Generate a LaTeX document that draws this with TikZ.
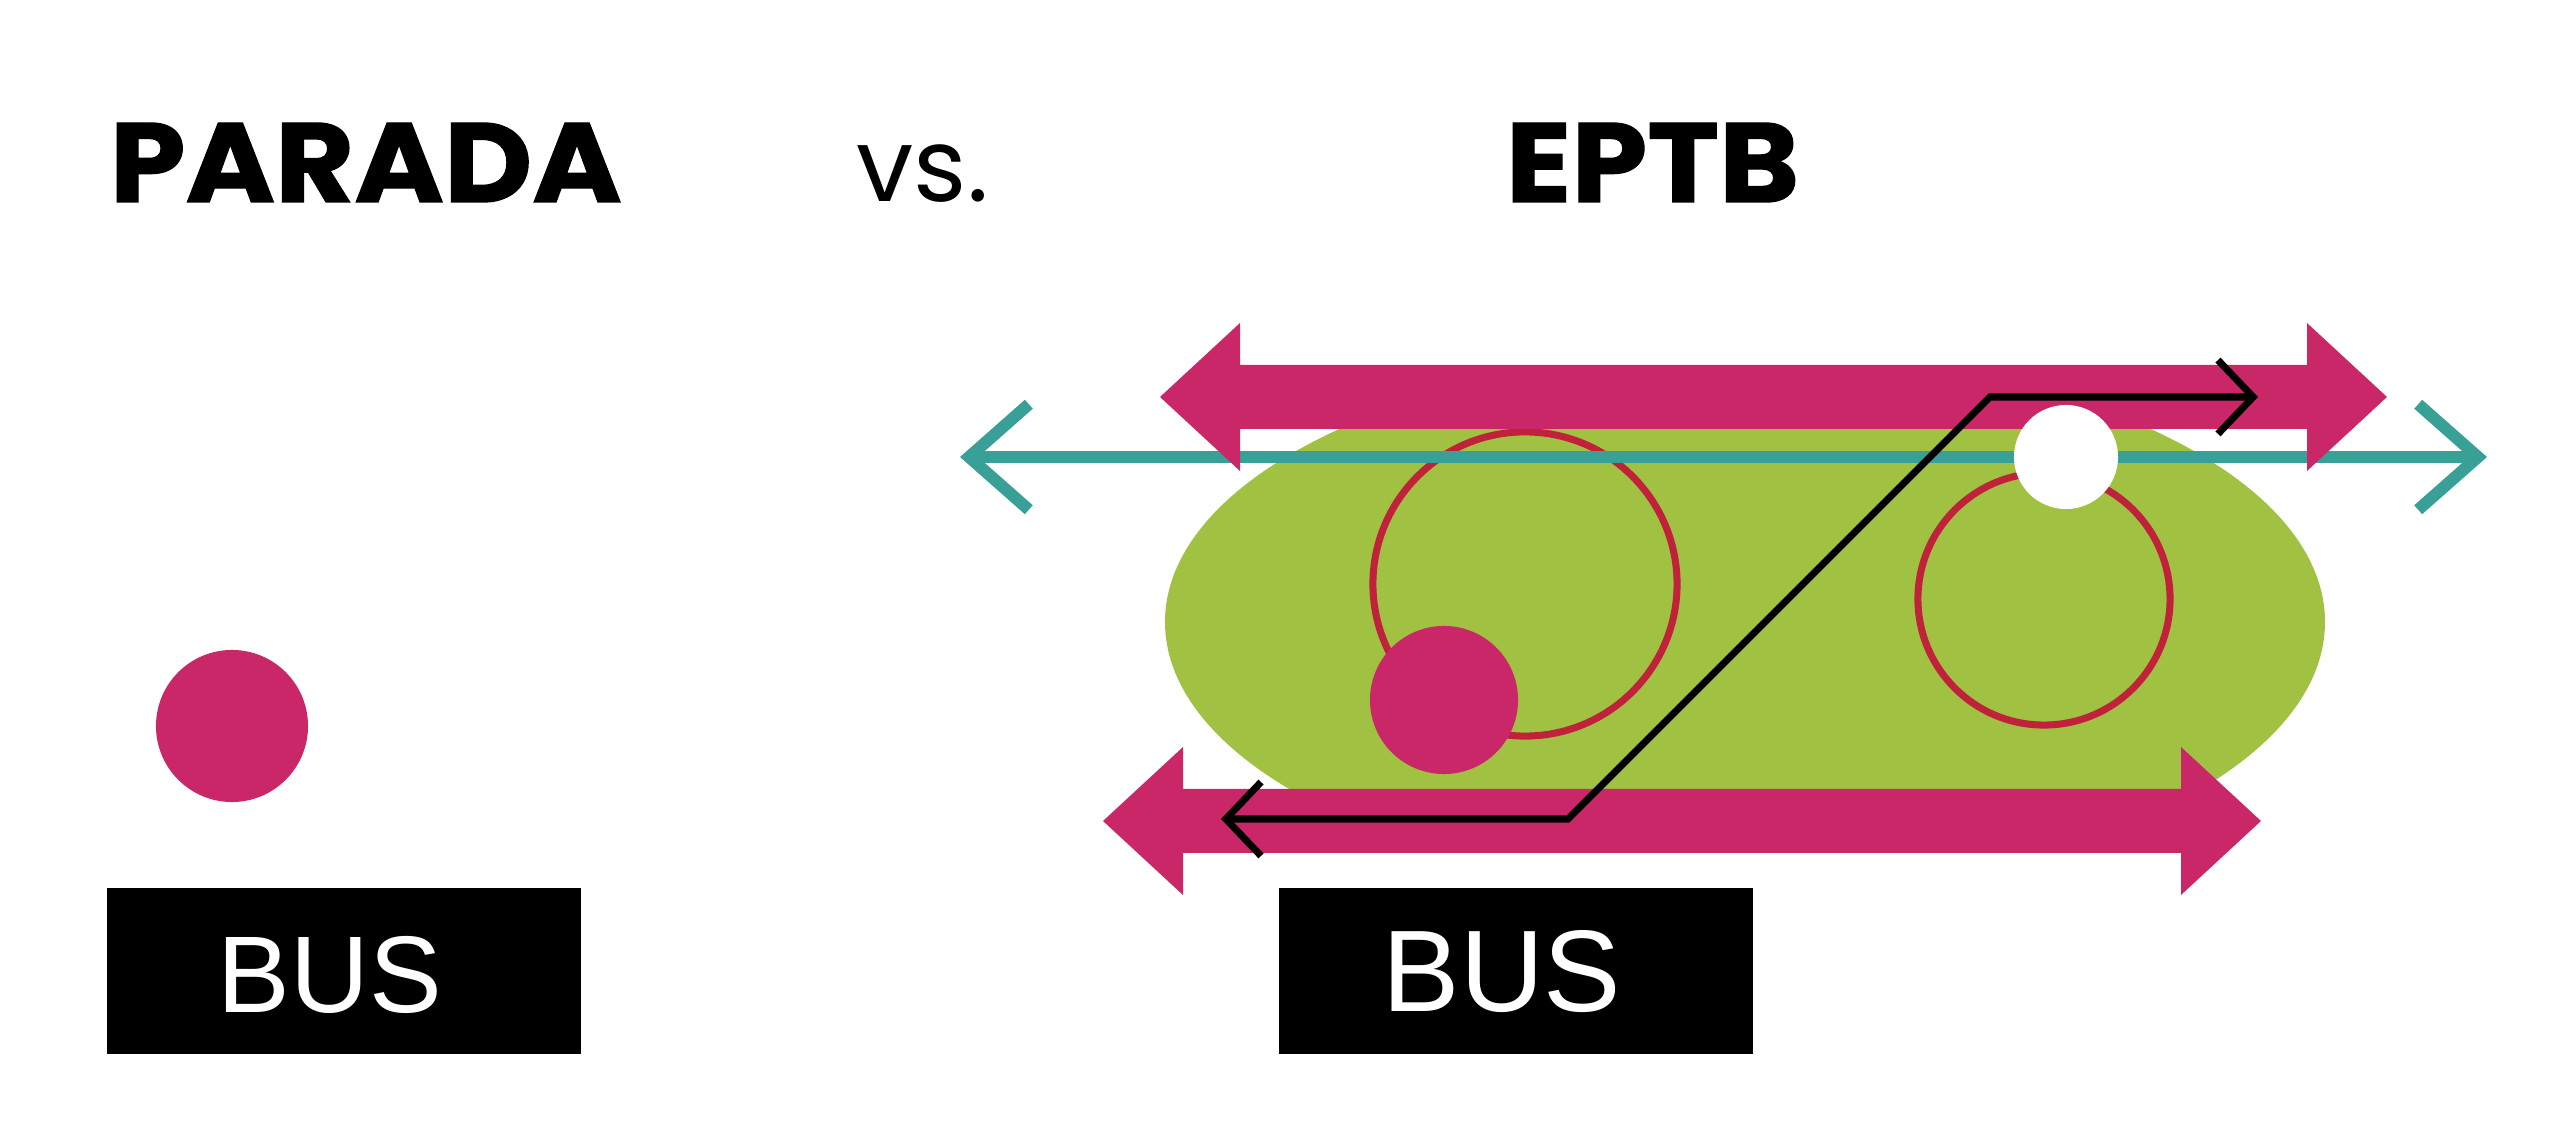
\documentclass[tikz,border=0pt]{standalone}
\usepackage{fontspec}
\usepackage{tikz}
\usetikzlibrary{arrows.meta,calc,positioning}
\setmainfont{Liberation Sans}
\newfontfamily\titlefont{Poppins}[BoldFeatures={FakeStretch=1.08,FakeBold=1.2}]
\definecolor{epPink}{RGB}{201,39,104}
\definecolor{epRed}{RGB}{192,34,60}
\definecolor{epTeal}{RGB}{56,160,150}
\definecolor{epGreen}{RGB}{161,193,66}
\newcommand{\fatarrow}[3]{%
  \pgfmathsetmacro{\shaftlen}{#2-#1-160}
  \fill[epPink] (#1,#3) -- ++(80,-74) -- ++(0,42) -- ++(\shaftlen,0) -- ++(0,-42)
    -- (#2,#3) -- ++(-80,74) -- ++(0,-42) -- ++(-\shaftlen,0) -- ++(0,42) -- cycle;
}

\begin{document}
\begin{tikzpicture}[x=0.01cm,y=-0.01cm,
  title/.style={anchor=base west,inner sep=0pt,font=\titlefont\bfseries\fontsize{32}{36}\selectfont},
  vstext/.style={anchor=base west,inner sep=0pt,font=\titlefont\fontsize{29}{32}\selectfont},
  busbox/.style={fill=black,minimum width=4.73cm,minimum height=1.65cm,inner sep=0pt},
  bustext/.style={text=white,inner sep=0pt},
  dot/.style={circle,fill=epPink,inner sep=0pt},
  ring/.style={circle,draw=epRed,line width=2pt,inner sep=0pt},
  hole/.style={circle,fill=white,inner sep=0pt,minimum size=1.04cm},
  tealline/.style={draw=epTeal,line width=3.4pt,
    {Straight Barb[length=17pt,width=30pt]}-{Straight Barb[length=17pt,width=30pt]}},
  route/.style={draw=black,line width=2pt,
    {Straight Barb[length=10pt,width=21pt]}-{Straight Barb[length=10pt,width=21pt]}}]
  \useasboundingbox (0,0) rectangle (2556,1122);

  \node[title] (parada) at (109,202) {PARADA};
  \node[vstext] (vs) at (856,202) {vs.};
  \node[title] (eptb) at (1505,202) {EPTB};

  \node[dot,minimum size=1.52cm] (stop) at (232,726) {};
  \node[busbox] (busL) at (344,971) {};
  \node[bustext,font=\fontsize{31}{34}\selectfont] (busLtext) at ($(busL.center)+(-14,4)$) {BUS};

  \begin{scope}
    \clip (1100,430) rectangle (2400,848);
    \fill[epGreen] (1745,622) ellipse [x radius=580,y radius=270];
  \end{scope}
  \node[ring,minimum size=3.04cm] (ringA) at (1525,584) {};
  \node[ring,minimum size=2.52cm] (ringB) at (2044,599) {};
  \coordinate (lineL) at (960,457);
  \coordinate (lineR) at (2487,457);
  \draw[tealline] (lineL) -- (lineR);
  \fatarrow{1160}{2387}{397}
  \fatarrow{1103}{2261}{821}
  \node[dot,minimum size=1.48cm] (bus) at (1444,700) {};
  \node[hole] (gap) at (2066,457) {};
  \coordinate (routeA) at (1221,819);
  \coordinate (routeB) at (1568,819);
  \coordinate (routeC) at (1990,397);
  \coordinate (routeD) at (2258,397);
  \draw[route] (routeA) -- (routeB) -- (routeC) -- (routeD);

  \node[busbox] (busR) at (1516,971) {};
  \node[bustext,font=\fontsize{33}{36}\selectfont] (busRtext) at ($(busR.center)+(-14,1)$) {BUS};
\end{tikzpicture}
\end{document}
